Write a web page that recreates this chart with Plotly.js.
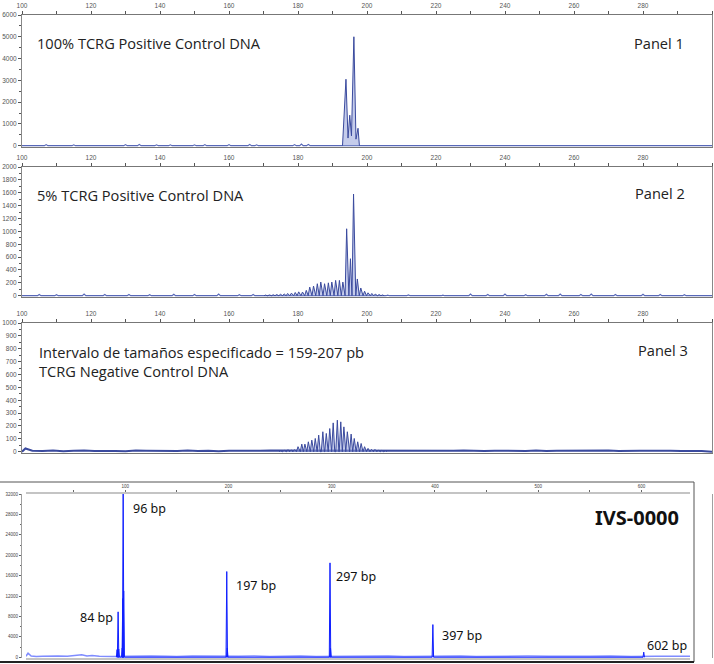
<!DOCTYPE html>
<html><head><meta charset="utf-8">
<script src="https://cdn.plot.ly/plotly-3.0.1.min.js"></script>
<style>html,body{margin:0;padding:0;background:#fff}#chart{width:714px;height:664px}</style>
</head><body><div id="chart"></div>
<script>
// ---------- DATA ----------
// Panel 1: 100% TCRG Positive Control DNA (size in bp, signal in RFU)
const p1ClusterSize = [192.9, 193.6, 193.9, 194.5, 195.0, 195.5, 196.0, 196.2, 196.8, 197.4, 197.8];
const p1ClusterRfu  = [0, 2700, 3050, 350, 1400, 450, 4600, 5000, 300, 800, 0];
const p1NoiseSize = [100, 107, 115, 126, 130, 134, 139, 143, 150, 153, 160, 166, 168, 179, 181, 183, 300];
const p1NoiseRfu  = [0, 50, 40, 30, 50, 60, 40, 40, 40, 50, 50, 60, 40, 50, 70, 60, 0];

// Panel 2: 5% TCRG Positive Control DNA
const p2PeakSize = [170.6, 171.7, 172.8, 173.8, 174.9, 176.0, 177.0, 178.1, 179.2, 180.2, 181.3, 182.4, 183.4,
  184.5, 185.6, 186.6, 187.7, 188.8, 189.8, 190.9, 192.0, 193.0, 194.1, 195.2, 196.1, 197.2, 198.2, 199.3,
  200.3, 201.4, 202.4, 203.5, 204.5];
const p2PeakRfu = [10, 12, 15, 18, 22, 28, 35, 40, 50, 60, 57, 83, 134, 150, 186, 212, 186, 200, 212, 238, 238,
  212, 1040, 575, 1580, 260, 120, 70, 45, 35, 25, 18, 12];
const p2NoiseSize = [100, 105, 110, 118, 124, 131, 137, 144, 150, 157, 163, 167, 206, 212, 222, 230, 235, 240,
  246, 252, 256, 262, 265, 272, 280, 285, 292, 300];
const p2NoiseRfu = [0, 20, 15, 25, 18, 20, 15, 22, 18, 25, 15, 20, 10, 12, 10, 25, 20, 25, 15, 22, 25, 18, 25,
  20, 22, 18, 15, 0];

// Panel 3: TCRG Negative Control DNA
const p3PeakSize = [175.0, 176.0, 177.1, 178.0, 179.0, 180.0, 181.1, 182.0, 183.0, 184.0, 185.0, 186.0, 187.2,
  188.2, 189.2, 190.2, 191.4, 192.4, 193.3, 194.3, 195.4, 196.3, 197.3, 198.3, 199.3, 200.3, 201.3, 202.3,
  203.3, 204.3, 205.3];
const p3PeakRfu = [8, 12, 16, 14, 16, 39, 59, 59, 77, 90, 103, 129, 155, 142, 180, 224, 245, 232, 193, 155, 137,
  103, 77, 64, 39, 26, 18, 18, 12, 10, 8];
const p3NoiseSize = [100, 101, 103, 106, 109, 112, 115, 118, 121, 124, 127, 130, 133, 136, 139, 142, 145, 148,
  151, 154, 157, 160, 163, 166, 169, 172, 207, 210, 213, 216, 219, 222, 225, 228, 231, 234, 237, 240, 243,
  246, 249, 252, 255, 258, 261, 264, 267, 270, 273, 276, 279, 282, 285, 288, 291, 294, 297, 300];
const p3NoiseRfu = [0, 25, 8, 5, 9, 4, 7, 10, 5, 8, 6, 4, 9, 7, 5, 8, 6, 10, 5, 7, 4, 8, 6, 5,
  7, 9, 5, 4, 7, 6, 8, 5, 7, 9, 6, 5, 8, 7, 4, 6, 9, 5, 7, 8, 6, 5, 7, 9, 6, 4, 7, 8,
  5, 7, 6, 8, 5, 0];

// Bottom: IVS-0000 size ladder
const ladderLabels = ['84 bp', '96 bp', '197 bp', '297 bp', '397 bp', '602 bp'];
const bPeakSize = [92.2, 93.2, 93.8, 97.2, 97.7, 98.1, 98.6, 198.4, 198.9, 298.4, 298.9, 398.0, 602.2];
const bPeakRfu  = [1500, 8900, 1600, 1800, 11500, 32500, 13000, 16800, 1800, 18500, 1800, 6400, 1000];
const bNoiseSize = [4, 6, 9, 14, 20, 28, 35, 44, 52, 58, 63, 68, 75, 82, 88, 104, 115, 125, 140, 150, 165, 178,
  190, 210, 225, 240, 255, 270, 285, 310, 325, 340, 355, 370, 385, 410, 425, 440, 455, 470, 490, 510, 530, 550,
  570, 590, 615, 630, 647];
const bNoiseRfu = [200, 800, 250, 150, 200, 150, 250, 200, 300, 500, 250, 350, 200, 250, 150, 200, 150, 250, 200,
  150, 250, 200, 150, 200, 250, 150, 200, 250, 150, 200, 150, 200, 250, 150, 200, 200, 250, 150, 200, 150,
  250, 200, 150, 200, 250, 150, 200, 150, 200];

// Tick labels
const panelXTicks = [100, 120, 140, 160, 180, 200, 220, 240, 260, 280];
const p1YTicks = [0, 1000, 2000, 3000, 4000, 5000, 6000];
const p2YTicks = [0, 200, 400, 600, 800, 1000, 1200, 1400, 1600, 1800, 2000];
const p3YTicks = [0, 100, 200, 300, 400, 500, 600, 700, 800, 900, 1000];
const bXTicks = [100, 200, 300, 400, 500, 600];
const bYTicks = [0, 4000, 8000, 12000, 16000, 20000, 24000, 28000, 32000];

// ---------- BUILD ----------
const W = 714, H = 664;
const fx = p => p / W, fy = p => 1 - p / H;

function spikes(pos, rfu, hw) {
  const x = [], y = [];
  pos.forEach((p, i) => { x.push(p - hw, p, p + hw); y.push(0, rfu[i], 0); });
  return {x, y};
}

const navy = '#3a4a9e', pale = 'rgba(150,162,218,0.55)';
const blue = '#1020ff', paleBlue = 'rgba(90,100,255,0.55)';

const s2 = spikes(p2PeakSize, p2PeakRfu, 0.45);
const s3 = spikes(p3PeakSize, p3PeakRfu, 0.45);
const sb = spikes(bPeakSize, bPeakRfu, 0.7);
const n1 = spikes(p1NoiseSize, p1NoiseRfu, 0.5);
const n2 = spikes(p2NoiseSize, p2NoiseRfu, 0.5);

const traces = [
  {x: n1.x, y: n1.y, xaxis: 'x', yaxis: 'y', mode: 'lines', line: {color: '#5868b8', width: 1.2}},
  {x: p1ClusterSize, y: p1ClusterRfu, xaxis: 'x', yaxis: 'y', mode: 'lines', fill: 'tozeroy',
   fillcolor: pale, line: {color: navy, width: 1}},
  {x: n2.x, y: n2.y, xaxis: 'x2', yaxis: 'y2', mode: 'lines', line: {color: '#5868b8', width: 1.2}},
  {x: s2.x, y: s2.y, xaxis: 'x2', yaxis: 'y2', mode: 'lines', fill: 'tozeroy',
   fillcolor: pale, line: {color: navy, width: 1}},
  {x: p3NoiseSize, y: p3NoiseRfu, xaxis: 'x3', yaxis: 'y3', mode: 'lines', line: {color: '#3a4a9e', width: 2}},
  {x: s3.x, y: s3.y, xaxis: 'x3', yaxis: 'y3', mode: 'lines', fill: 'tozeroy',
   fillcolor: pale, line: {color: navy, width: 1}},
  {x: bNoiseSize, y: bNoiseRfu, xaxis: 'x4', yaxis: 'y4', mode: 'lines', line: {color: '#7f8cff', width: 1.5}},
  {x: sb.x, y: sb.y, xaxis: 'x4', yaxis: 'y4', mode: 'lines', fill: 'tozeroy',
   fillcolor: paleBlue, line: {color: blue, width: 1}}
];

const tickFont = {family: 'Liberation Sans, Arial, sans-serif', size: 6.5, color: '#555'};
function panelX(anchor) {
  return {domain: [fx(22), fx(712)], anchor: anchor, side: 'top', range: [100, 300],
    tickmode: 'array', tickvals: panelXTicks, ticktext: panelXTicks.map(String),
    ticks: 'outside', ticklen: 3, tickcolor: '#555', tickfont: tickFont,
    minor: {tickmode: 'linear', tick0: 0, dtick: 10, ticks: 'outside', ticklen: 3, tickcolor: '#555'},
    showline: true, linecolor: '#777', linewidth: 1, mirror: true,
    showgrid: false, zeroline: false, fixedrange: true};
}
function panelY(top, bottom, range, ticks, minorStep) {
  return {domain: [fy(bottom), fy(top)], range: range, tickmode: 'array', tickvals: ticks,
    ticktext: ticks.map(String), ticks: 'outside', ticklen: 3, tickcolor: '#555', tickfont: tickFont,
    minor: {tickmode: 'linear', tick0: 0, dtick: minorStep, ticks: 'outside', ticklen: 2, tickcolor: '#555'},
    showline: true, linecolor: '#888', linewidth: 1, mirror: true,
    showgrid: false, zeroline: false, fixedrange: true};
}

const txt = {family: 'Open Sans, Noto Sans, sans-serif', size: 14.6, color: '#222'};
const lbl = {family: 'Noto Sans, Open Sans, sans-serif', size: 12.5, color: '#111'};
function ann(text, x, y, font, anchor) {
  return {text: text, xref: 'paper', yref: 'paper', x: fx(x), y: fy(y), xanchor: anchor || 'left',
    yanchor: 'middle', showarrow: false, font: font};
}

const layout = {
  width: W, height: H, autosize: false, margin: {l: 0, r: 0, t: 0, b: 0},
  paper_bgcolor: '#fff', plot_bgcolor: '#fff', showlegend: false,
  xaxis: panelX('y'),
  yaxis: panelY(15, 147, [-60, 6000], p1YTicks, 500),
  xaxis2: panelX('y2'),
  yaxis2: panelY(167, 297, [-20, 2000], p2YTicks, 100),
  xaxis3: panelX('y3'),
  yaxis3: panelY(323, 453, [-10, 1000], p3YTicks, 50),
  xaxis4: {domain: [fx(26), fx(690)], anchor: 'y4', side: 'top', range: [4, 647],
    tickmode: 'array', tickvals: bXTicks, ticktext: bXTicks.map(String),
    ticks: 'outside', ticklen: 2, tickcolor: '#666',
    tickfont: {family: 'Liberation Sans, Arial, sans-serif', size: 4.5, color: '#444'},
    minor: {tickmode: 'linear', tick0: 0, dtick: 50, ticks: 'outside', ticklen: 2, tickcolor: '#666'},
    showline: true, linecolor: '#c4c4c4', linewidth: 2, mirror: true,
    showgrid: false, zeroline: false, fixedrange: true},
  yaxis4: {domain: [fy(658), fy(494)], range: [-150, 32000], tickmode: 'array', tickvals: bYTicks,
    ticktext: bYTicks.map(String), ticks: 'outside', ticklen: 2, tickcolor: '#666',
    tickfont: {family: 'Liberation Sans, Arial, sans-serif', size: 4.5, color: '#444'},
    minor: {tickmode: 'linear', tick0: 0, dtick: 2000, ticks: 'outside', ticklen: 1.5, tickcolor: '#666'},
    showline: true, linecolor: '#a0a0a0', linewidth: 1, mirror: true,
    showgrid: false, zeroline: false, fixedrange: true},
  shapes: [
    {type: 'line', xref: 'paper', yref: 'paper', x0: 0, x1: fx(694), y0: fy(482), y1: fy(482),
     line: {color: '#555', width: 1}},
    {type: 'line', xref: 'paper', yref: 'paper', x0: fx(694), x1: fx(694), y0: fy(482), y1: fy(662),
     line: {color: '#555', width: 1}},
    {type: 'line', xref: 'paper', yref: 'paper', x0: 0, x1: fx(694), y0: fy(662), y1: fy(662),
     line: {color: '#222', width: 2}}
  ],
  annotations: [
    ann('100% TCRG Positive Control DNA', 35, 43, txt),
    ann('Panel 1', 686, 43, txt, 'right'),
    ann('5% TCRG Positive Control DNA', 35, 195, txt),
    ann('Panel 2', 687, 193, txt, 'right'),
    ann('Intervalo de tamaños especificado = 159-207 pb', 37, 352, txt),
    ann('TCRG Negative Control DNA', 37, 371, txt),
    ann('Panel 3', 690, 350, txt, 'right'),
    ann(ladderLabels[0], 78, 617, lbl),
    ann(ladderLabels[1], 131, 508, lbl),
    ann(ladderLabels[2], 234, 585, lbl),
    ann(ladderLabels[3], 334, 576, lbl),
    ann(ladderLabels[4], 440, 635, lbl),
    ann(ladderLabels[5], 645, 645, lbl),
    ann('<b>IVS-0000</b>', 593, 517, {family: 'Noto Sans, Open Sans, sans-serif', size: 20, color: '#111'})
  ]
};

Plotly.newPlot('chart', traces, layout, {staticPlot: true, displayModeBar: false});
</script>
</body></html>
